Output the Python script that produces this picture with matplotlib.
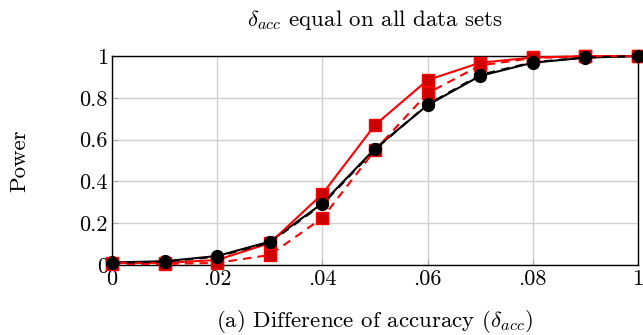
import numpy as np
import matplotlib
matplotlib.use('Agg')
import matplotlib.pyplot as plt

plt.rcParams['font.family'] = ['cmr10', 'DejaVu Serif']
plt.rcParams['mathtext.fontset'] = 'cm'
plt.rcParams['axes.formatter.use_mathtext'] = True

# data
delta = [0.0, 0.01, 0.02, 0.03, 0.04, 0.05, 0.06, 0.07, 0.08, 0.09, 0.10]
black_solid = [0.012, 0.018, 0.043, 0.112, 0.295, 0.557, 0.765, 0.905, 0.968, 0.992, 1.0]
black_dash = [0.010, 0.016, 0.040, 0.108, 0.290, 0.553, 0.768, 0.910, 0.970, 0.993, 1.0]
red_solid = [0.010, 0.010, 0.024, 0.105, 0.340, 0.670, 0.885, 0.968, 0.993, 0.999, 1.0]
red_dash = [0.005, 0.005, 0.010, 0.048, 0.225, 0.550, 0.822, 0.955, 0.990, 0.999, 1.0]

xticks = [0, 0.02, 0.04, 0.06, 0.08, 0.10]
xticklabels = ['0', '.02', '.04', '.06', '.08', '1']
yticks = [0, 0.2, 0.4, 0.6, 0.8, 1.0]
yticklabels = ['0', '0.2', '0.4', '0.6', '0.8', '1']

fig = plt.figure(figsize=(6.43, 3.35), dpi=100)
ax = fig.add_axes([0.1742, 0.2090, 0.8180, 0.6238])

red = '#ff0000'
darkred = '#cc0000'
ax.plot(delta, black_solid, color='black', lw=1.5, marker='o', ms=8.5, zorder=3, clip_on=False)
ax.plot(delta, red_solid, color=red, lw=1.5, marker='s', ms=8, mfc=darkred, mec=red, zorder=4, clip_on=False)
ax.plot(delta, red_dash, color=red, lw=1.5, ls=(0, (4, 3)), marker='s', ms=8, mfc=darkred, mec=red, zorder=4, clip_on=False)
ax.plot(delta, black_dash, color='black', lw=1.5, ls=(0, (4, 3)), marker='o', ms=8.5, zorder=5, clip_on=False)

ax.set_xlim(0, 0.1)
ax.set_ylim(0, 1)
ax.set_xticks(xticks)
ax.set_xticklabels(xticklabels)
ax.set_yticks(yticks)
ax.set_yticklabels(yticklabels)
ax.tick_params(direction='in', length=4, color='#aaaaaa', labelsize=16, pad=3)
ax.grid(True, color='#d0d0d0', lw=1)
ax.set_axisbelow(True)
for s in ax.spines.values():
    s.set_linewidth(1)

fig.text(0.583, 0.94, r'$\delta_{acc}$ equal on all data sets', ha='center', va='center', fontsize=16.5)
fig.text(0.031, 0.521, 'Power', rotation=90, ha='center', va='center', fontsize=16.5)
fig.text(0.583, 0.039, r'(a) Difference of accuracy ($\delta_{acc}$)', ha='center', va='center', fontsize=16.5)

fig.savefig('out.png', dpi=100)
